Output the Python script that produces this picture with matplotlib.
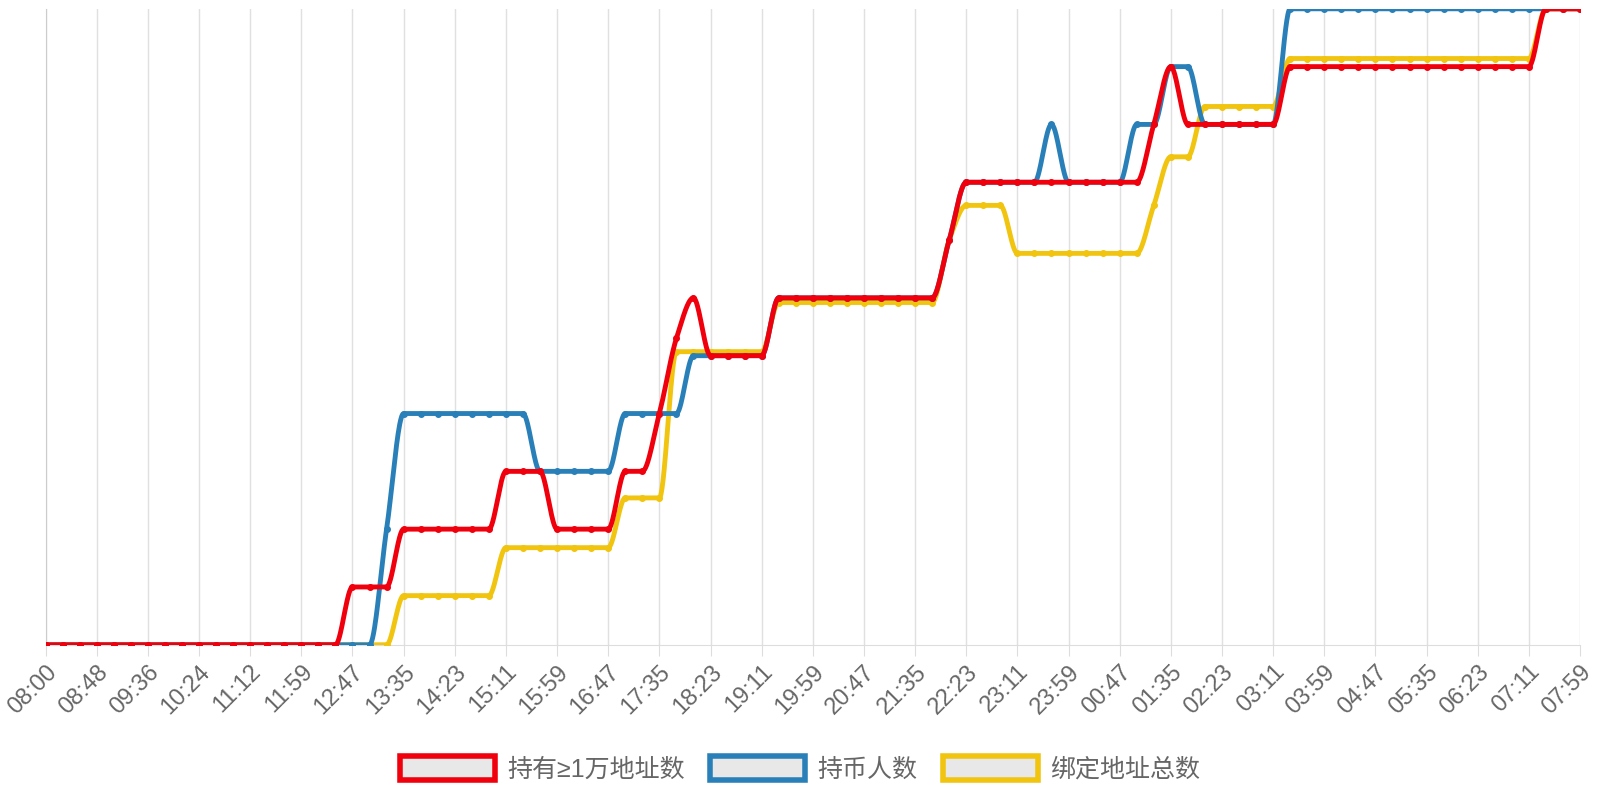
import numpy as np
import matplotlib
matplotlib.use("Agg")
import matplotlib.pyplot as plt
from matplotlib.patches import Patch

plt.rcParams['font.family'] = ['Liberation Sans', 'Noto Sans CJK SC', 'DejaVu Sans']

tick_labels = ["08:00","08:48","09:36","10:24","11:12","11:59","12:47","13:35","14:23","15:11",
               "15:59","16:47","17:35","18:23","19:11","19:59","20:47","21:35","22:23","23:11",
               "23:59","00:47","01:35","02:23","03:11","03:59","04:47","05:35","06:23","07:11","07:59"]
series_names = ["持有≥1万地址数", "持币人数", "绑定地址总数"]
colors = ["#f0000c", "#2980b9", "#f1c40f"]

def steps(n, segs):
    v = []
    for val, cnt in segs:
        v += [val] * cnt
    assert len(v) == n, len(v)
    return v

N = 91
red = steps(N, [(0,18),(1,3),(2,6),(3,3),(2,4),(3,2),(4,1),(5.3,1),(6,1),(5,4),(6,10),(7,1),(8,11),(9,1),(10,1),(9,6),(10,15),(11,3)])
blue = steps(N, [(0,20),(2,1),(4,8),(3,5),(4,4),(5,5),(6,10),(7,1),(8,5),(9,1),(8,4),(9,2),(10,2),(9,5),(11,18)])
yellow = steps(N, [(0,21),(0.85,6),(1.68,7),(2.54,3),(5.07,6),(5.92,10),(7,1),(7.6,3),(6.77,8),(7.6,1),(8.44,2),(9.31,5),(10.14,15),(11,3)])

def pchip(x, y, xs):
    x = np.asarray(x, float); y = np.asarray(y, float)
    h = np.diff(x); d = np.diff(y) / h
    m = np.zeros_like(y)
    for k in range(1, len(y) - 1):
        if d[k-1] * d[k] > 0:
            w1 = 2*h[k] + h[k-1]; w2 = h[k] + 2*h[k-1]
            m[k] = (w1 + w2) / (w1/d[k-1] + w2/d[k])
    idx = np.clip(np.searchsorted(x, xs) - 1, 0, len(x) - 2)
    t = (xs - x[idx]) / h[idx]
    h00 = 2*t**3 - 3*t**2 + 1; h10 = t**3 - 2*t**2 + t
    h01 = -2*t**3 + 3*t**2; h11 = t**3 - t**2
    return h00*y[idx] + h10*h[idx]*m[idx] + h01*y[idx+1] + h11*h[idx]*m[idx+1]

fig = plt.figure(figsize=(16, 8), dpi=100)
ax = fig.add_axes([0.0285, 0.194, 0.959, 0.795])
x = np.arange(N)
xs = np.linspace(0, N - 1, 3000)
data = [red, blue, yellow]
for i in [2, 1, 0]:
    ax.plot(xs, pchip(x, data[i], xs), color=colors[i], lw=3.5, zorder=3 + (2 - i), solid_capstyle='round')
    ax.plot(x, data[i], 'o', color=colors[i], ms=4, zorder=3 + (2 - i))

ax.set_xlim(0, N - 1)
ax.set_ylim(0, 11)
ticks = np.arange(0, N, 3)
ax.set_xticks(ticks)
ax.set_xticklabels(tick_labels, rotation=45, ha='right', rotation_mode='anchor', fontsize=17, color='#666666')
ax.set_yticks([])
ax.grid(axis='x', color='#e0e0e0', lw=1)
for s in ['top', 'right']:
    ax.spines[s].set_visible(False)
ax.spines['left'].set_color('#cccccc')
ax.spines['bottom'].set_color('#dddddd')
ax.tick_params(axis='x', length=8, color='#dddddd')
ax.set_axisbelow(True)

handles = [Patch(facecolor='#e8e8e8', edgecolor=c, lw=4) for c in colors]
fig.legend(handles, series_names, loc='lower center', bbox_to_anchor=(0.5, -0.005), ncol=3,
           frameon=False, fontsize=18, handlelength=3.8, handleheight=1.1, labelcolor='#666666',
           columnspacing=1.0, handletextpad=0.5)
fig.savefig("out.png", dpi=100)
